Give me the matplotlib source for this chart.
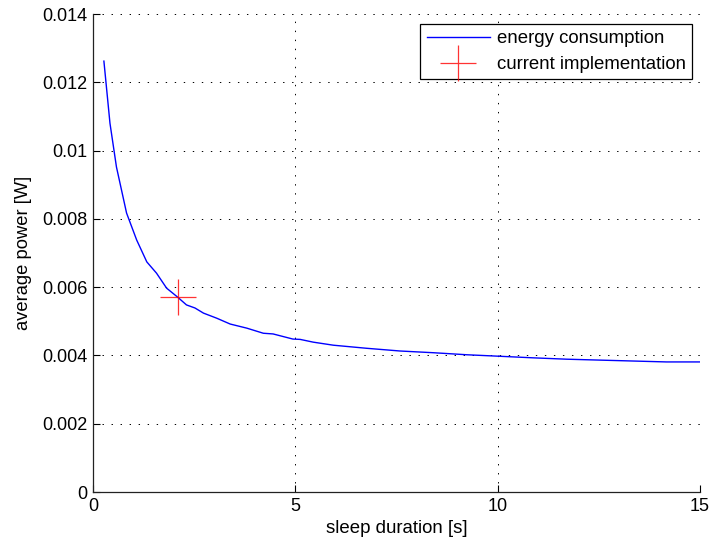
#!/usr/bin/env python

#IMPORTS---------------------------------------
from matplotlib import pyplot as plt
import numpy as np
#----------------------------------------------

#FONT / STYLE ---------------------------------
plt.rcParams['font.family'] = ['Liberation Sans', 'DejaVu Sans']
plt.rcParams['font.size'] = 13
plt.rcParams['lines.scale_dashes'] = False
#----------------------------------------------

#MEASURED DATA: sleep duration [s] vs average power [W]
sleep_s = [0.27, 0.42, 0.58, 0.83, 1.08, 1.33, 1.57, 1.82, 2.09, 2.31,
           2.52, 2.73, 3.06, 3.39, 3.80, 4.21, 4.45, 4.94, 5.12, 5.44,
           5.94, 6.76, 7.59, 8.41, 9.24, 9.98, 10.88, 11.71, 12.94,
           14.17, 15.0]
power_w = [0.01262, 0.0108, 0.00952, 0.00817, 0.00738, 0.00674, 0.00641,
           0.00597, 0.00571, 0.00548, 0.00539, 0.00524, 0.00509, 0.00492,
           0.00480, 0.00465, 0.00463, 0.00448, 0.00447, 0.00439, 0.00430,
           0.00421, 0.00413, 0.00408, 0.00402, 0.00398, 0.00393, 0.00389,
           0.00385, 0.00381, 0.00381]

#current operating point
cur_sleep = 2.1
cur_power = 0.0057

xticks = [0, 5, 10, 15]
yticks = [0, 0.002, 0.004, 0.006, 0.008, 0.01, 0.012, 0.014]
ylabels = ['0', '0.002', '0.004', '0.006', '0.008', '0.01', '0.012', '0.014']
#----------------------------------------------

#PLOT -----------------------------------------
fig = plt.figure(figsize=(7.13, 5.47), dpi=100)
ax = fig.add_axes([0.1304, 0.1005, 0.8514, 0.8739])

ax.plot(sleep_s, power_w, color=(0, 0, 1), lw=1.0, label='energy consumption')
ax.plot(cur_sleep, cur_power, '+', color=(1, 0, 0), ms=26, mew=0.9,
        alpha=0.8, label='current implementation', linestyle='none')

ax.set_xlim(0, 15)
ax.set_ylim(0, 0.014)
ax.set_xticks(xticks)
ax.set_xticklabels([str(t) for t in xticks])
ax.set_yticks(yticks)
ax.set_yticklabels(ylabels)

ax.grid(True, color='k', linestyle=(0, (1, 5.5)), linewidth=0.7)
for side in ['top', 'right']:
  ax.spines[side].set_visible(False)
for side in ['left', 'bottom']:
  ax.spines[side].set_linewidth(0.9)
  ax.spines[side].set_color('#222222')
ax.tick_params(direction='in', length=5, width=0.8, pad=4,
               top=False, right=False)

ax.set_xlabel('sleep duration [s]', labelpad=4, fontsize=13.4)
ax.set_ylabel('average power [W]', labelpad=7, fontsize=13.2)

leg = ax.legend(loc='upper right', bbox_to_anchor=(0.9868, 0.9791),
                fancybox=False, framealpha=1, edgecolor='k',
                borderaxespad=0, handlelength=3.4, handletextpad=0.38,
                borderpad=0.33, labelspacing=0.48, fontsize=13.4)
leg.get_frame().set_linewidth(0.9)
#----------------------------------------------

#SAVE -----------------------------------------
fig.savefig('out.png', dpi=100)
#----------------------------------------------
